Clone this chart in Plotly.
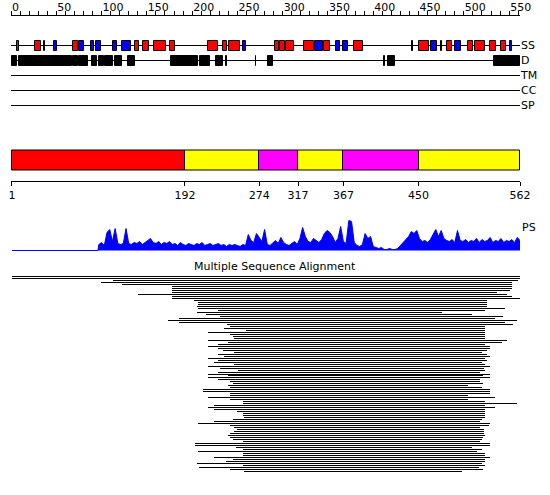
import plotly.graph_objects as go

W, H = 550, 495
SEQ_LEN = 562

# ---------------- data ----------------
track_labels = ["SS", "D", "TM", "CC", "SP"]

helix_start = [7, 27, 36, 68, 137, 146, 158, 176, 217, 234, 241, 292, 297, 304, 324, 346, 379, 450, 481, 505, 512, 529, 541]
helix_end   = [9, 33, 38, 74, 141, 152, 171, 181, 228, 238, 253, 296, 302, 313, 335, 352, 389, 461, 487, 510, 523, 536, 547]
strand_start = [47, 75, 88, 94, 113, 123, 256, 336, 359, 367, 464, 490, 551]
strand_end   = [51, 81, 92, 99, 117, 132, 260, 344, 363, 372, 470, 497, 553]
ss_marks = [443, 475]

disorder_start = [1, 9, 69, 75, 80, 89, 97, 104, 115, 129, 177, 209, 226, 284, 416, 533]
disorder_end   = [7, 67, 74, 79, 85, 95, 103, 113, 123, 137, 207, 220, 234, 289, 424, 562]
disorder_marks = [237, 270, 412]

domain_bounds = [1, 192, 274, 317, 367, 450, 562]
domain_colors = ["#ff0000", "#ffff00", "#ff00ff", "#ffff00", "#ff00ff", "#ffff00"]

ps_flat = [1, 96]
ps_pos = list(range(97, 563, 3))
ps_val = [6, 8, 5, 18, 21, 9, 22, 7, 6, 7,
          22, 7, 6, 8, 7, 9, 6, 8, 10, 12,
          8, 7, 9, 6, 8, 7, 9, 6, 7, 5,
          8, 6, 5, 7, 6, 5, 7, 6, 8, 5,
          6, 7, 5, 6, 7, 5, 6, 4, 6, 5,
          6, 5, 4, 6, 5, 16, 10, 8, 17, 13,
          9, 21, 6, 5, 8, 10, 7, 13, 8, 6,
          5, 7, 9, 6, 12, 23, 14, 9, 8, 12,
          10, 8, 11, 17, 20, 18, 14, 8, 12, 24,
          9, 7, 30, 29, 8, 5, 4, 6, 17, 12,
          14, 4, 3, 2, 3, 1, 1, 2, 1, 1,
          2, 5, 8, 10, 14, 19, 17, 20, 12, 9,
          10, 8, 11, 16, 21, 14, 20, 12, 10, 9,
          11, 8, 20, 10, 9, 11, 8, 10, 9, 12,
          8, 11, 9, 10, 13, 8, 10, 9, 12, 8,
          10, 9, 11, 8, 13, 10]

msa_start = [1, 1, 113, 99, 123, 178, 178, 178, 178, 140, 178, 178, 202, 206, 206, 205, 206, 229, 205, 215,
             231, 185, 173, 185, 239, 242, 235, 259, 218, 242, 245, 246, 217, 240, 228, 217, 228, 234, 246, 229,
             235, 217, 229, 224, 246, 217, 231,
             251, 229, 217, 240, 217, 229, 242, 245, 240, 242, 212, 212, 242, 242, 217, 242, 256, 256, 224, 217,
             224, 250, 256, 256, 257, 245, 224, 206, 242, 246, 250, 246, 242, 240, 242, 245, 256, 203, 203, 248,
             256, 206, 256, 256, 224, 245, 237, 205, 256, 208, 242, 257]
msa_end = [562, 562, 560, 553, 553, 553, 553, 551, 537, 548, 553, 562, 526, 526, 526, 526, 545, 523, 476, 509,
           543, 534, 559, 545, 554, 523, 523, 523, 523, 523, 523, 523, 548, 542, 523, 529, 529, 526, 520, 526,
           529, 523, 526, 520, 523, 529, 522,
           523, 518, 529, 521, 529, 518, 518, 521, 505, 520, 529, 529, 529, 505, 534, 505, 523, 559, 523, 534,
           523, 523, 523, 523, 523, 520, 518, 529, 528, 518, 522, 522, 522, 523, 521, 520, 518, 529, 529, 509,
           520, 515, 523, 523, 529, 523, 523, 520, 523, 517, 521, 498]


def py(px):
    """paper fraction for a pixel row measured from the top"""
    return 1 - px / H


N = len(msa_start)
X_DOM = [11 / W, 520 / W]
X_RANGE = [0, SEQ_LEN]
BLACK = "rgba(0,0,0,0.99)"

fig = go.Figure()

# ---- annotation tracks ----
fig.add_trace(go.Bar(y=list(range(len(track_labels))), base=[0] * len(track_labels),
                     x=[SEQ_LEN] * len(track_labels), orientation="h", width=1 / 15,
                     marker=dict(color=BLACK, line=dict(width=0)),
                     xaxis="x", yaxis="y", hoverinfo="skip"))


def boxes(starts, ends, row, color, width):
    return go.Bar(y=[row] * len(starts), base=starts,
                  x=[e - s for s, e in zip(starts, ends)], orientation="h", width=width,
                  marker=dict(color=color, line=dict(color="black", width=1)),
                  xaxis="x", yaxis="y", hoverinfo="skip")


fig.add_trace(boxes(helix_start, helix_end, 0, "#ff0000", 10 / 15))
fig.add_trace(boxes(strand_start, strand_end, 0, "#0000ff", 10 / 15))
fig.add_trace(boxes(ss_marks, [m + 1 for m in ss_marks], 0, "black", 10 / 15))
fig.add_trace(boxes(disorder_start, disorder_end, 1, "black", 10 / 15))
fig.add_trace(boxes(disorder_marks, [m + 1 for m in disorder_marks], 1, "black", 10 / 15))

# ---- domain bar ----
fig.add_trace(go.Bar(y=[0] * (len(domain_bounds) - 1), base=domain_bounds[:-1],
                     x=[b - a for a, b in zip(domain_bounds[:-1], domain_bounds[1:])],
                     orientation="h", width=1,
                     marker=dict(color=domain_colors, line=dict(color="black", width=1)),
                     xaxis="x2", yaxis="y2", hoverinfo="skip"))

# ---- PS profile ----
fig.add_trace(go.Scatter(x=ps_flat + ps_pos, y=[0, 0] + ps_val, mode="lines",
                         line=dict(color="#0000ff", width=1), fill="tozeroy",
                         fillcolor="#0000ff", xaxis="x", yaxis="y3", hoverinfo="skip"))

# ---- multiple sequence alignment ----
fig.add_trace(go.Bar(y=list(range(N)), base=msa_start,
                     x=[e - s for s, e in zip(msa_start, msa_end)], orientation="h", width=0.5,
                     marker=dict(color=BLACK, line=dict(width=0)),
                     xaxis="x", yaxis="y4", hoverinfo="skip"))

axis_common = dict(showgrid=False, zeroline=False, automargin=False)

fig.update_layout(
    width=W, height=H, margin=dict(l=0, r=0, t=0, b=0, pad=0, autoexpand=False),
    paper_bgcolor="white", plot_bgcolor="rgba(0,0,0,0)",
    barmode="overlay", bargap=0, bargroupgap=0, showlegend=False,
    font=dict(family="DejaVu Sans", size=11, color="black"),
    xaxis=dict(domain=X_DOM, range=X_RANGE, anchor="free", position=py(15), side="top",
               showline=True, linecolor="black", linewidth=1,
               ticks="outside", ticklen=4, tickcolor="black", tickwidth=1,
               tick0=0, dtick=50, ticklabelposition="outside right",
               minor=dict(ticks="outside", ticklen=4, dtick=10, tick0=0, tickcolor="black",
                          tickwidth=1, showgrid=False),
               **axis_common),
    yaxis=dict(domain=[py(113), py(38)], range=[4.5, -0.5], anchor="x", side="right",
               tickvals=list(range(len(track_labels))), ticktext=track_labels,
               ticks="", showline=False, **axis_common),
    xaxis2=dict(domain=X_DOM, range=X_RANGE, matches="x", anchor="free", position=py(181),
                side="bottom", showline=True, linecolor="black", linewidth=1,
                ticks="outside", ticklen=4, tickcolor="black", tickwidth=1,
                tickmode="array", tickvals=domain_bounds,
                ticktext=[str(b) for b in domain_bounds], **axis_common),
    yaxis2=dict(domain=[py(175.5), py(145.5)], range=[-0.75, 0.75], anchor="x2",
                visible=False, **axis_common),
    yaxis3=dict(domain=[py(252), py(215)], range=[-1.5, 35.5], anchor="x",
                visible=False, **axis_common),
    yaxis4=dict(domain=[py(275 + 2 * N), py(275)], range=[N - 0.25, -0.75], anchor="x",
                visible=False, **axis_common),
    annotations=[
        dict(text="PS", x=SEQ_LEN, xref="x", xanchor="left", y=py(227), yref="paper",
             yanchor="middle", showarrow=False, font=dict(size=11)),
        dict(text="Multiple Sequence Alignment", x=0.5, xref="paper", xanchor="center",
             y=py(266), yref="paper", yanchor="middle", showarrow=False, font=dict(size=11)),
    ],
)

fig.write_html("out.html", config={"displayModeBar": False, "staticPlot": False},
               post_script="document.body.style.margin='0';document.body.style.padding='0';")
